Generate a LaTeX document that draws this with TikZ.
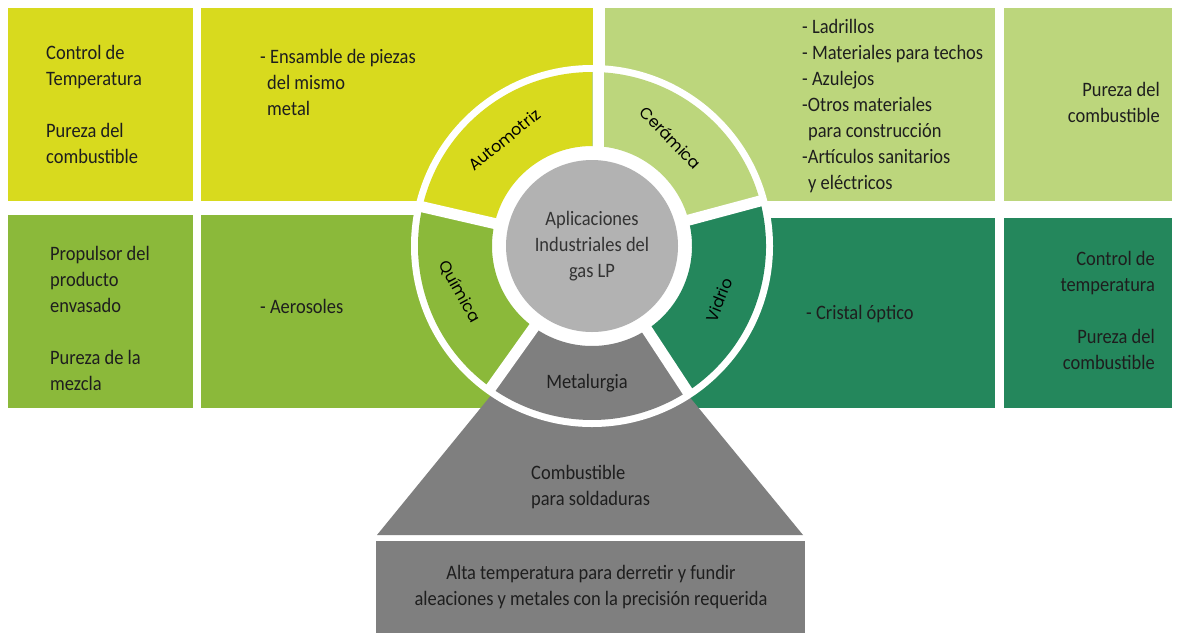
\documentclass[tikz,border=0pt]{standalone}
\usepackage{fontspec}
\setmainfont{Carlito}[FakeStretch=0.9]
\newfontfamily\ringfont{Poppins}
\definecolor{cyel}{HTML}{D8DA1E}
\definecolor{clgr}{HTML}{BCD67C}
\definecolor{coli}{HTML}{8BB93A}
\definecolor{cdgr}{HTML}{24875C}
\definecolor{cgry}{HTML}{B2B2B2}
\definecolor{cmet}{HTML}{7F7F7F}
\definecolor{ctxt}{HTML}{1E1E1E}
\definecolor{cctr}{HTML}{333333}
\begin{document}
\begin{tikzpicture}[x=1pt,y=1pt,
  txt/.style={font=\fontsize{20.5}{26}\selectfont, text=ctxt, inner sep=0pt, align=left},
  txtr/.style={txt, align=right, anchor=east},
  txtl/.style={txt, anchor=west},
  ringlbl/.style={font=\ringfont\fontsize{16}{18}\selectfont, text=black, inner sep=0pt},
  gapline/.style={white, line width=11pt}]
\useasboundingbox (0,0) rectangle (1180,-633);
\fill[white] (0,0) rectangle (1180,-633);
% rectangles
\fill[cyel] (8,-8) rectangle (193,-201);
\fill[cyel] (201,-8) rectangle (593,-201);
\fill[clgr] (605,-8) rectangle (995,-201);
\fill[clgr] (1004,-8) rectangle (1172,-201);
\fill[coli] (8,-215) rectangle (193,-408);
\fill[coli] (201,-215) rectangle (560,-408);
\fill[cdgr] (640,-218) rectangle (995,-408);
\fill[cdgr] (1004,-218) rectangle (1172,-408);
% trapezoid and bottom box
\fill[cmet] (377,-535) -- (528,-350) -- (651,-350) -- (803,-535) -- cycle;
\fill[cmet] (376,-541) rectangle (805,-633);
% ring
\coordinate (c) at (592,-246);
\fill[white] (c) circle[radius=181];
\begin{scope}[shift={(c)}]
\fill[cyel] (90:174) arc[start angle=90,end angle=167,radius=174] -- (167:100) arc[start angle=167,end angle=90,radius=100] -- cycle;
\fill[clgr] (15:174) arc[start angle=15,end angle=90,radius=174] -- (90:100) arc[start angle=90,end angle=15,radius=100] -- cycle;
\fill[cdgr] (-56.7:174) arc[start angle=-56.7,end angle=15,radius=174] -- (15:100) arc[start angle=15,end angle=-56.7,radius=100] -- cycle;
\fill[cmet] (-125.5:174) arc[start angle=-125.5,end angle=-56.7,radius=174] -- (-56.7:100) arc[start angle=-56.7,end angle=-125.5,radius=100] -- cycle;
\fill[coli] (167:174) arc[start angle=167,end angle=234.5,radius=174] -- (234.5:100) arc[start angle=234.5,end angle=167,radius=100] -- cycle;
\draw[gapline] (6,0) -- (6,185);
\draw[gapline] (0,0) -- (167:180);
\draw[gapline] (0,0) -- (15:180);
\draw[gapline] (0,0) -- (-56.7:180);
\draw[gapline] (0,0) -- (234.5:180);
\fill[cgry] (0,0) circle[radius=86];
\node[ringlbl, rotate=39] (automotriz) at (129.5:138) {Automotriz};
\node[ringlbl, rotate=-46] (ceramica) at (54:134) {Cerámica};
\node[ringlbl, rotate=68] (vidrio) at (-23:138) {Vidrio};
\node[ringlbl, rotate=-61] (quimica) at (199:140) {Química};
\node[txt, align=center] (metalurgia) at (-5,-137) {Metalurgia};
\end{scope}
\node[txt, align=center, text=cctr] (center) at (c) {Aplicaciones\\Industriales del\\gas LP};
% texts
\node[txtl] (yl) at (46,-104) {Control de\\Temperatura\\[26pt]Pureza del\\combustible};
\node[txtl] (yr) at (260,-82) {- Ensamble de piezas\\\hspace*{7pt}del mismo\\\hspace*{7pt}metal};
\node[txtl] (lg) at (802,-106) {- Ladrillos\\- Materiales para techos\\- Azulejos\\-Otros materiales\\\hspace*{6pt}para construcción\\-Artículos sanitarios\\\hspace*{6pt}y eléctricos};
\node[txtr] (lgr) at (1160,-102) {Pureza del\\combustible};
\node[txtl] (ol) at (50,-318) {Propulsor del\\producto\\envasado\\[26pt]Pureza de la\\mezcla};
\node[txtl] (olr) at (260,-306) {- Aerosoles};
\node[txtl] (dg) at (806,-314) {- Cristal óptico};
\node[txtr] (dgr) at (1155,-310) {Control de\\temperatura\\[26pt]Pureza del\\combustible};
\node[txtl] (trap) at (531,-487) {Combustible\\para soldaduras};
\node[txt, align=center] (bottom) at (591,-587) {Alta temperatura para derretir y fundir\\aleaciones y metales con la precisión requerida};
\end{tikzpicture}
\end{document}
